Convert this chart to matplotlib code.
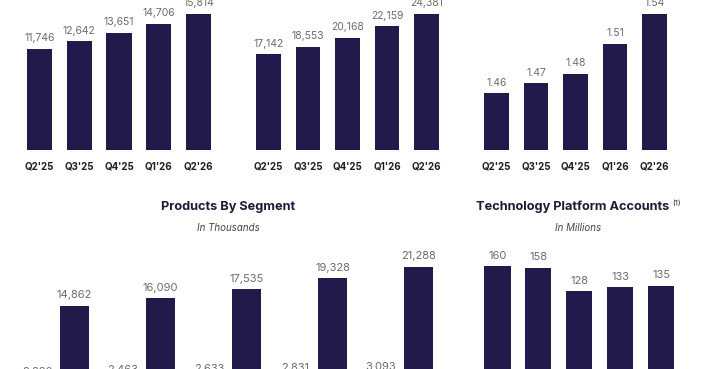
import matplotlib

matplotlib.use("Agg")

import matplotlib.pyplot as plt
import numpy as np

quarters = ["Q2'25", "Q3'25", "Q4'25", "Q1'26", "Q2'26"]

# top row
left_values = [11746, 12642, 13651, 14706, 15814]
middle_values = [17142, 18553, 20168, 22159, 24381]
right_values = [1.46, 1.47, 1.48, 1.51, 1.54]

# bottom row
segment_small = [2280, 2463, 2633, 2831, 3093]
segment_large = [14862, 16090, 17535, 19328, 21288]
platform_accounts = [160, 158, 128, 133, 135]

BAR = "#211a4b"
LABEL = "#6c6c6c"
TICK = "#1e1e2a"
TITLE = "#1d1a3a"

plt.rcParams["font.family"] = ["Inter", "DejaVu Sans"]

W, H = 704, 369
fig = plt.figure(figsize=(W / 100, H / 100), dpi=100)
fig.patch.set_facecolor("white")


def px_axes(x0, x1, y_top, y_bottom):
    """Add axes from pixel coordinates (origin top-left)."""
    return fig.add_axes([x0 / W, 1 - y_bottom / H, (x1 - x0) / W, (y_bottom - y_top) / H])


def clean(ax):
    for spine in ax.spines.values():
        spine.set_visible(False)
    ax.set_yticks([])
    ax.set_xlim(-0.5, 4.5)
    ax.patch.set_alpha(0)


def fmt_int(v):
    return f"{v:,}"


def label_bars(ax, xs, values, fmt, size):
    for xi, v in zip(xs, values):
        ax.annotate(fmt(v), (xi, v), xytext=(0, 4), textcoords="offset points",
                    ha="center", va="bottom", fontsize=size, color=LABEL,
                    annotation_clip=False)


def top_chart(ax, values, ylim, fmt):
    x = np.arange(len(values))
    ax.bar(x, values, width=0.63, color=BAR)
    ax.set_ylim(*ylim)
    clean(ax)
    ax.set_xticks(x)
    ax.set_xticklabels(quarters, fontsize=7, fontweight="bold", color=TICK)
    ax.tick_params(axis="x", length=0, pad=8)
    label_bars(ax, x, values, fmt, 7.5)


# axes top at y=5px, bars peak near y=14px
scale = 145 / 136
ax1 = px_axes(19.6, 218.4, 5, 150)
top_chart(ax1, left_values, (0, max(left_values) * scale), fmt_int)

ax2 = px_axes(248.75, 446.25, 5, 150)
top_chart(ax2, middle_values, (0, max(middle_values) * scale), fmt_int)

ax3 = px_axes(476.75, 674.25, 5, 150)
top_chart(ax3, right_values, (1.403, 1.403 + (1.54 - 1.403) * scale), lambda v: f"{v:.2f}")

# Products By Segment
ax4 = px_axes(12.75, 442.75, 240, 396)
clean(ax4)
x = np.arange(len(quarters))
ax4.bar(x - 0.218, segment_small, width=0.337, color=BAR)
ax4.bar(x + 0.218, segment_large, width=0.337, color=BAR)
ax4.set_ylim(0, 156 / 0.00608)
ax4.set_xticks([])
label_bars(ax4, x - 0.218, segment_small, fmt_int, 8)
label_bars(ax4, x + 0.218, segment_large, fmt_int, 8)

fig.text(228 / W, 1 - 207 / H, "Products By Segment", ha="center", va="center",
         fontsize=9.2, fontweight="bold", color=TITLE)
fig.text(228 / W, 1 - 228 / H, "In Thousands", ha="center", va="center",
         fontsize=7, style="italic", color="#444444")

# Technology Platform Accounts
ax5 = px_axes(477, 681.5, 240, 391)
clean(ax5)
x = np.arange(len(platform_accounts))
ax5.bar(x, platform_accounts, width=0.64, color=BAR)
ax5.set_ylim(0, 151 / 0.78)
ax5.set_xticks([])
label_bars(ax5, x, platform_accounts, str, 8)

title = fig.text(572.5 / W, 1 - 207 / H, "Technology Platform Accounts", ha="center", va="center",
                 fontsize=9.2, fontweight="bold", color=TITLE)
ax5.annotate("(1)", xy=(1, 1), xycoords=title, xytext=(2, 1), textcoords="offset points",
             ha="left", va="top", fontsize=5.5, color=TITLE, annotation_clip=False)
fig.text(578 / W, 1 - 228 / H, "In Millions", ha="center", va="center",
         fontsize=7, style="italic", color="#444444")

fig.savefig("out.png", dpi=100, facecolor="white")
